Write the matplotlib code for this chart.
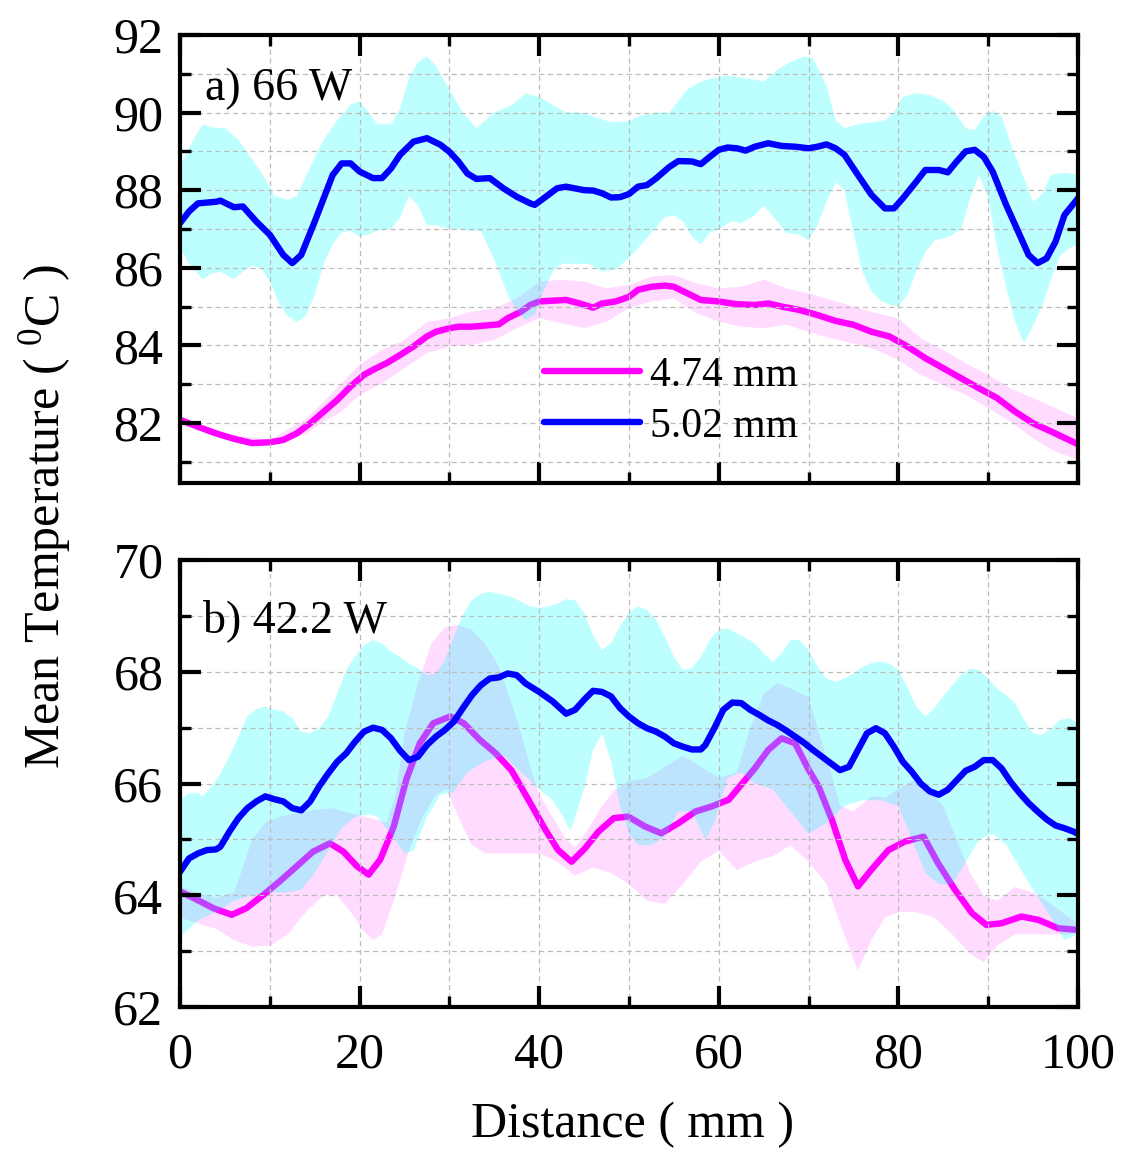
import numpy as np
import matplotlib

matplotlib.use("Agg")
import matplotlib.pyplot as plt
from matplotlib.lines import Line2D
from matplotlib.ticker import MultipleLocator

plt.rcParams["font.family"] = ["Liberation Serif", "DejaVu Serif"]
plt.rcParams["mathtext.fontset"] = "custom"
plt.rcParams["mathtext.rm"] = "Liberation Serif"

MAGENTA = "#ff00ff"
BLUE = "#0000ff"
CYAN = "#00ffff"
LINE_W = 4.6

# ---- a) 66 W ----------------------------------------------------------
TOP_BLUE = [
    (0, 87.15), (1, 87.45), (2, 87.66), (4, 87.7), (4.5, 87.73), (6, 87.56),
    (7, 87.58), (8.5, 87.19), (10, 86.85), (11.5, 86.33), (12.5, 86.12),
    (13.5, 86.33), (15, 87.19), (16, 87.79), (17, 88.39), (18, 88.69),
    (19, 88.69), (20, 88.48), (21.5, 88.31), (22.5, 88.31), (23.5, 88.56),
    (24.5, 88.91), (26, 89.25), (27.5, 89.34), (29, 89.17), (30, 88.99),
    (31, 88.74), (32, 88.43), (33, 88.29), (34.5, 88.31), (36, 88.05),
    (37.5, 87.83), (39, 87.66), (39.5, 87.62), (40.5, 87.79), (42, 88.05),
    (43, 88.09), (45, 88.0), (46, 87.99), (47, 87.92), (48, 87.81),
    (49, 87.82), (50, 87.9), (51, 88.09), (52, 88.13), (53, 88.3),
    (54.5, 88.6), (55.5, 88.75), (57, 88.74), (58, 88.67), (59, 88.86),
    (60, 89.04), (61, 89.1), (62, 89.08), (63, 89.02), (64, 89.12),
    (65.5, 89.21), (67, 89.14), (68.5, 89.12), (70, 89.08), (71, 89.12),
    (72, 89.18), (73, 89.08), (74, 88.91), (75.5, 88.39), (77, 87.88),
    (78.5, 87.53), (79.5, 87.53), (80.5, 87.79), (82, 88.22), (83, 88.52),
    (84.5, 88.52), (85.5, 88.46), (86.5, 88.74), (87.5, 89.0), (88.5, 89.04),
    (89.5, 88.86), (90.5, 88.48), (92, 87.62), (93.5, 86.85), (94.5, 86.33),
    (95.5, 86.12), (96.5, 86.24), (97.5, 86.67), (98.5, 87.36), (100, 87.79),
]
TOP_BLUE_HI = [
    (0, 88.6), (1, 89.1), (2.5, 89.7), (4, 89.6), (5, 89.6), (6.5, 89.3),
    (8, 88.8), (9.5, 88.3), (10.5, 87.85), (12, 87.75), (13, 87.85),
    (14.5, 88.6), (16, 89.3), (17.5, 89.8), (19, 90.2), (20, 90.3),
    (21, 90.0), (22, 89.7), (23.5, 89.7), (24.5, 90.1), (25.5, 90.9),
    (26.5, 91.3), (27.5, 91.45), (28.5, 91.2), (30, 90.6), (31.5, 90.0),
    (33, 89.6), (34, 89.8), (35, 90.0), (37, 90.2), (38.5, 90.5), (40, 90.4),
    (41.5, 90.2), (43, 90.0), (44.5, 90.0), (46, 89.9), (48, 89.75),
    (50, 89.78), (51, 89.9), (53, 90.0), (54.5, 90.0), (55.5, 90.3),
    (56.5, 90.6), (58, 90.8), (59.5, 90.9), (61, 90.95), (62.5, 90.9),
    (64, 90.85), (65, 90.8), (66.5, 91.1), (68, 91.3), (69.5, 91.45),
    (70.5, 91.4), (72, 90.7), (73, 89.8), (74, 89.6), (75.5, 89.7),
    (77, 89.75), (78.5, 89.8), (79.5, 90.0), (80.5, 90.4), (82, 90.5),
    (83.5, 90.45), (85, 90.3), (86, 90.1), (87.5, 89.6), (88.5, 89.55),
    (89.5, 89.9), (90.5, 90.05), (91.5, 89.9), (92.5, 89.2), (94, 88.3),
    (95, 87.7), (96, 87.9), (97, 88.4), (98.5, 88.45), (100, 88.4),
]
TOP_BLUE_LO = [
    (0, 86.5), (1, 86.1), (2.5, 85.7), (3.5, 85.85), (4.5, 85.9), (6, 85.7),
    (7, 85.9), (8, 86.05), (9, 86.0), (10, 85.65), (11, 85.1), (12, 84.75),
    (13, 84.6), (14, 84.75), (15, 85.3), (16, 86.1), (17, 86.6), (18, 86.9),
    (19, 86.95), (20, 86.8), (21, 86.85), (22, 86.95), (23.5, 87.0),
    (24.5, 87.3), (25.5, 87.85), (26.5, 87.6), (27.5, 87.1), (28.5, 87.1),
    (30, 87.0), (31, 87.0), (32.5, 86.95), (33.5, 86.95), (35, 86.2),
    (36.5, 85.3), (37.5, 84.9), (38.5, 84.65), (39.5, 84.8), (40.5, 85.4),
    (41.5, 85.9), (42.5, 86.1), (44, 86.1), (45.5, 86.1), (47, 85.9),
    (48.5, 85.95), (50, 86.25), (51, 86.5), (52.5, 86.9), (54, 87.3),
    (55, 87.35), (56, 87.2), (57, 86.8), (58, 86.6), (59, 86.9), (60, 87.0),
    (61.5, 87.2), (62.5, 87.15), (64, 87.35), (65, 87.6), (66.5, 87.2),
    (67.5, 86.9), (69, 86.85), (70, 86.7), (71, 87.1), (72, 87.7),
    (73, 88.2), (74, 88.0), (75, 86.9), (76, 85.9), (77, 85.4), (78, 85.15),
    (79, 85.05), (80, 85.0), (81, 85.3), (82, 85.9), (83, 86.4), (84, 86.7),
    (85, 86.75), (86, 86.85), (87, 87.0), (88, 87.8), (89, 88.4), (90, 87.8),
    (91, 86.5), (92, 85.5), (93, 84.6), (94, 84.05), (95, 84.5), (96, 85.0),
    (97, 85.7), (98, 86.3), (99, 86.5), (100, 86.6),
]
TOP_MAG = [
    (0, 82.08), (2, 81.9), (4, 81.73), (6, 81.59), (8, 81.48), (10, 81.5),
    (11.5, 81.56), (13, 81.73), (14.5, 81.99), (16, 82.29), (17.5, 82.59),
    (19, 82.94), (20.5, 83.24), (21.5, 83.37), (23, 83.54), (24.5, 83.75),
    (26, 83.97), (27.5, 84.23), (28.5, 84.35), (30, 84.44), (31, 84.48),
    (32.5, 84.48), (34, 84.51), (35.5, 84.54), (36.5, 84.7), (38, 84.87),
    (39, 85.04), (40, 85.13), (41.5, 85.15), (43, 85.17), (44.5, 85.08),
    (46, 84.97), (47, 85.08), (48.5, 85.13), (50, 85.25), (51, 85.43),
    (52.5, 85.51), (54, 85.54), (55, 85.51), (56.5, 85.34), (58, 85.17),
    (60, 85.13), (62, 85.06), (64, 85.04), (65.5, 85.08), (67, 85.0),
    (69, 84.91), (71, 84.78), (73, 84.63), (75, 84.53), (77, 84.35),
    (79, 84.23), (81, 83.97), (83, 83.67), (85, 83.41), (87, 83.15),
    (89, 82.89), (91, 82.64), (93, 82.29), (95, 81.99), (97, 81.78),
    (99, 81.56), (100, 81.45),
]
TOP_MAG_HI = [
    (0, 82.13), (5, 81.72), (10, 81.56), (14, 82.1), (16, 82.55), (20, 83.5),
    (22.5, 83.88), (25, 84.14), (27.5, 84.6), (30, 84.7), (32.5, 84.87),
    (35, 84.95), (37.5, 85.21), (40, 85.64), (42.5, 85.69), (45, 85.64),
    (47.5, 85.47), (50, 85.55), (52.5, 85.77), (55, 85.81), (57.5, 85.6),
    (60, 85.47), (62.5, 85.51), (65, 85.69), (67.5, 85.47), (70, 85.34),
    (72.5, 85.17), (75, 85.0), (77.5, 84.83), (80, 84.7), (82.5, 84.18),
    (85, 83.88), (87.5, 83.54), (90, 83.24), (92.5, 82.89), (95, 82.64),
    (97.5, 82.38), (100, 82.12),
]
TOP_MAG_LO = [
    (0, 82.03), (5, 81.62), (10, 81.45), (14, 81.7), (16, 82.03), (18, 82.29),
    (20, 82.72), (22.5, 83.02), (25, 83.41), (27.5, 83.8), (30, 83.97),
    (32.5, 84.01), (35, 84.14), (37.5, 84.44), (40, 84.7), (42.5, 84.57),
    (45, 84.44), (47.5, 84.61), (50, 84.96), (52.5, 85.13), (55, 85.21),
    (57.5, 84.83), (60, 84.61), (62.5, 84.48), (65, 84.44), (67.5, 84.53),
    (70, 84.35), (72.5, 84.18), (75, 84.05), (77.5, 83.88), (80, 83.62),
    (82.5, 83.24), (85, 82.98), (87.5, 82.72), (90, 82.38), (92.5, 82.03),
    (95, 81.6), (97.5, 81.26), (100, 81.05),
]

# ---- b) 42.2 W --------------------------------------------------------
BOT_BLUE = [
    (0, 64.42), (1, 64.66), (2, 64.75), (3, 64.81), (4, 64.82), (4.5, 64.87),
    (5.5, 65.14), (6.5, 65.38), (7.5, 65.56), (8.5, 65.68), (9.5, 65.77),
    (10.5, 65.72), (11.5, 65.68), (12.5, 65.56), (13.5, 65.52), (14.5, 65.68),
    (15.5, 65.95), (16.5, 66.18), (17.5, 66.39), (18.5, 66.54), (19.5, 66.75),
    (20.5, 66.93), (21.5, 67.0), (22.5, 66.96), (23.5, 66.81), (24.5, 66.59),
    (25.5, 66.42), (26.5, 66.48), (27.5, 66.69), (28.5, 66.84), (29.5, 66.96),
    (30.5, 67.11), (31.5, 67.35), (32.5, 67.58), (33.5, 67.76), (34.5, 67.88),
    (35.5, 67.9), (36.5, 67.97), (37.5, 67.94), (38.5, 67.79), (40, 67.64),
    (41.5, 67.47), (43, 67.25), (44, 67.32), (45, 67.5), (46, 67.66),
    (47, 67.64), (48, 67.56), (49, 67.35), (50, 67.2), (51, 67.08),
    (52, 66.99), (53, 66.93), (54, 66.84), (55, 66.72), (56, 66.66),
    (57, 66.61), (58, 66.61), (58.5, 66.69), (59.5, 66.99), (60.5, 67.32),
    (61.5, 67.45), (62.5, 67.44), (63.5, 67.32), (64.5, 67.23), (65.5, 67.13),
    (66.5, 67.05), (67.5, 66.95), (68.5, 66.84), (69.5, 66.73), (70.5, 66.6),
    (71.5, 66.48), (72.5, 66.36), (73.5, 66.24), (74.5, 66.3), (75.5, 66.6),
    (76.5, 66.9), (77.5, 66.99), (78.5, 66.9), (79.5, 66.66), (80.5, 66.39),
    (81.5, 66.21), (82.5, 66.0), (83.5, 65.86), (84.5, 65.8), (85.5, 65.89),
    (86.5, 66.06), (87.5, 66.23), (88.5, 66.3), (89.5, 66.42), (90.5, 66.42),
    (91.5, 66.27), (92.5, 66.03), (93.5, 65.83), (94.5, 65.65), (95.5, 65.5),
    (96.5, 65.36), (97.5, 65.25), (98.5, 65.2), (99.5, 65.14), (100, 65.1),
]
BOT_BLUE_HI = [
    (0, 65.7), (1, 65.83), (2, 65.83), (2.5, 65.77), (3.5, 65.95), (4.5, 66.18),
    (5.5, 66.48), (6.5, 66.84), (7.5, 67.2), (8.5, 67.33), (9.5, 67.38),
    (10.5, 67.32), (11.5, 67.29), (12.5, 67.17), (13.5, 66.93), (14.5, 66.9),
    (15.5, 66.99), (16.5, 67.2), (17.5, 67.61), (18.5, 68.03), (19.5, 68.27),
    (20.5, 68.48), (21.5, 68.57), (22.5, 68.51), (23.5, 68.36), (24.5, 68.27),
    (25.5, 68.15), (26.5, 68.06), (27.5, 67.94), (28.5, 67.97), (29.5, 68.21),
    (30.5, 68.63), (31.5, 69.02), (32.5, 69.28), (33.5, 69.4), (34.5, 69.43),
    (35.5, 69.4), (37, 69.34), (38, 69.25), (39, 69.17), (40, 69.14),
    (41, 69.17), (42, 69.22), (43, 69.3), (44, 69.28), (45, 69.05),
    (46, 68.66), (47, 68.39), (48, 68.51), (49, 68.81), (50, 69.06),
    (51, 69.17), (52, 69.11), (53, 68.93), (54, 68.63), (55, 68.27),
    (56, 68.03), (57, 68.06), (58, 68.27), (59, 68.57), (60, 68.75),
    (61, 68.78), (62, 68.69), (63, 68.6), (64, 68.51), (65, 68.33),
    (66, 68.18), (67, 68.33), (68, 68.57), (69, 68.57), (70, 68.39),
    (71, 68.09), (72, 67.88), (73, 67.82), (74, 67.88), (75, 67.97),
    (76, 68.09), (77, 68.16), (78, 68.18), (79, 68.15), (80, 68.03),
    (81, 67.73), (82, 67.38), (83, 67.2), (84, 67.35), (85, 67.56),
    (86, 67.76), (87, 67.94), (88, 68.06), (89, 68.03), (90, 67.88),
    (91, 67.7), (92, 67.58), (93, 67.44), (94, 67.14), (95, 66.9),
    (96, 66.87), (97, 66.99), (98, 67.14), (99, 67.17), (100, 67.08),
]
BOT_BLUE_LO = [
    (0, 63.25), (2, 63.55), (4, 63.7), (6, 63.9), (8, 64.0), (10, 64.05),
    (12, 64.05), (13.5, 64.1), (15, 64.4), (16.5, 64.8), (18, 65.2),
    (19.5, 65.4), (21, 65.45), (22, 65.4), (23.5, 65.1), (25, 64.75),
    (26, 64.8), (27.5, 65.4), (29, 65.8), (30.5, 65.85), (32, 66.2),
    (34, 66.4), (36, 66.5), (38, 66.2), (40, 65.9), (41.5, 65.7),
    (42.5, 65.45), (43.5, 65.15), (45, 65.9), (46, 66.6), (47, 66.9),
    (48, 66.4), (49, 65.6), (50, 65.1), (51, 64.9), (52.5, 64.9),
    (54, 65.05), (55.5, 65.5), (57, 65.5), (58.5, 65.0), (59.5, 65.3),
    (61, 66.1), (62.5, 66.2), (64, 66.0), (66, 65.9), (68, 65.5),
    (70, 65.1), (72, 65.3), (74, 65.6), (76, 65.7), (78, 65.7), (80, 65.6),
    (81.5, 65.0), (83, 64.4), (84.5, 64.2), (86, 64.2), (87.5, 64.6),
    (89, 65.0), (90.5, 65.1), (92, 64.9), (93.5, 64.5), (95, 64.1),
    (97, 63.6), (98.5, 63.2), (100, 63.3),
]
BOT_MAG = [
    (0, 64.07), (1.9, 63.92), (3.7, 63.77), (5.75, 63.65), (7.4, 63.77),
    (9.3, 64.01), (11.1, 64.25), (13, 64.52), (14.8, 64.78), (16.7, 64.93),
    (18.2, 64.78), (19.7, 64.52), (21, 64.37), (22.3, 64.64), (23.8, 65.23),
    (25.2, 66.07), (26.7, 66.72), (28.2, 67.08), (30.1, 67.2), (31.6, 67.08),
    (33.4, 66.78), (35.1, 66.55), (36.9, 66.24), (38.8, 65.71), (40.7, 65.17),
    (42.1, 64.81), (43.6, 64.6), (45.1, 64.84), (46.6, 65.14), (48.3, 65.38),
    (49.9, 65.41), (51.8, 65.23), (53.6, 65.11), (55.5, 65.29), (57.4, 65.5),
    (59.2, 65.59), (61.1, 65.71), (62.5, 65.98), (64, 66.27), (65.5, 66.6),
    (67, 66.81), (68.5, 66.72), (70, 66.25), (71.1, 65.95), (72.6, 65.35),
    (74.1, 64.63), (75.5, 64.16), (77, 64.46), (78.9, 64.81), (80.7, 64.96),
    (82.8, 65.05), (84.4, 64.58), (86.3, 64.1), (88.2, 63.68), (89.8, 63.47),
    (91.5, 63.5), (93.7, 63.62), (95.6, 63.56), (97.8, 63.41), (100, 63.38),
]
BOT_MAG_HI = [
    (0, 64.16), (2, 64.04), (4, 63.95), (6, 64.05), (7, 64.5), (8, 65.0),
    (9.5, 65.3), (11, 65.4), (13, 65.47), (15, 65.53), (17, 65.56),
    (19, 65.47), (20.5, 65.41), (22, 65.35), (23, 65.3), (24, 65.8),
    (25, 66.9), (26.5, 67.8), (28, 68.5), (29.5, 68.8), (31, 68.84),
    (32.5, 68.75), (34, 68.5), (35.5, 68.1), (37, 67.4), (38, 66.9),
    (39, 66.3), (40, 65.8), (41.5, 65.4), (43, 65.0), (44, 64.85),
    (45.5, 65.2), (47, 65.6), (48.5, 65.9), (50, 66.05), (52, 66.1),
    (54, 66.3), (56, 66.5), (58, 66.3), (60, 66.1), (62, 66.2), (63.5, 67.0),
    (65, 67.6), (66.5, 67.8), (68, 67.7), (70, 67.55), (71, 67.0),
    (72.5, 66.2), (73.5, 65.6), (75, 65.5), (77, 65.77), (78.5, 65.75),
    (80, 65.9), (81.5, 66.05), (83, 65.95), (85, 65.6), (86.5, 65.0),
    (88, 64.4), (89.5, 64.0), (91, 63.9), (93, 64.15), (95, 64.05),
    (97, 63.85), (99, 63.6), (100, 63.5),
]
BOT_MAG_LO = [
    (0, 63.6), (2, 63.5), (4, 63.4), (6, 63.2), (8, 63.08), (10, 63.1),
    (12, 63.3), (14, 63.7), (16, 64.0), (17.5, 64.0), (19, 63.7),
    (20.5, 63.35), (21.5, 63.2), (22.5, 63.3), (24, 64.0), (25.5, 64.8),
    (27, 65.4), (28.5, 65.8), (29.7, 65.9), (31, 65.4), (32.5, 64.9),
    (34, 64.75), (36, 64.75), (38, 64.75), (40, 64.75), (42, 64.6),
    (44, 64.35), (46, 64.5), (48, 64.4), (50, 64.2), (52, 63.9), (54, 63.85),
    (56, 64.2), (58, 64.6), (60, 64.8), (62, 64.45), (64, 64.6), (66, 64.7),
    (68, 64.9), (70, 64.6), (72, 64.2), (73.5, 63.5), (75.5, 62.65),
    (77, 63.2), (78.5, 63.6), (80, 63.7), (82, 63.7), (84, 63.6), (86, 63.3),
    (88, 62.95), (89.5, 62.8), (91, 63.1), (93, 63.3), (95, 63.3),
    (97, 63.3), (99, 63.3), (100, 63.35),
]

LABELS = ["4.74 mm", "5.02 mm"]


def xy(points):
    arr = np.array(points, dtype=float)
    return arr[:, 0], arr[:, 1]


def band(ax, upper, lower, color, alpha, zorder):
    xu, yu = xy(upper)
    xl, yl = xy(lower)
    ax.fill(
        np.concatenate([xu, xl[::-1]]),
        np.concatenate([yu, yl[::-1]]),
        color=color,
        alpha=alpha,
        linewidth=0,
        zorder=zorder,
    )


def style_axes(ax, ylim):
    ax.set_xlim(0, 100)
    ax.set_ylim(*ylim)
    ax.xaxis.set_major_locator(MultipleLocator(20))
    ax.xaxis.set_minor_locator(MultipleLocator(10))
    ax.yaxis.set_major_locator(MultipleLocator(2))
    ax.yaxis.set_minor_locator(MultipleLocator(1))
    ax.set_axisbelow("line")
    ax.grid(True, which="both", linestyle=(0, (4, 3)), color="#bcbcbc", linewidth=0.9)
    ax.tick_params(which="both", direction="in", top=True, right=True, labelsize=36)
    ax.tick_params(which="major", length=15, width=3.0, pad=12)
    ax.tick_params(axis="x", which="major", pad=18)
    ax.tick_params(which="minor", length=8, width=2.4)
    for spine in ax.spines.values():
        spine.set_linewidth(3.0)


def draw_panel(ax, mag, mag_hi, mag_lo, blue, blue_hi, blue_lo):
    band(ax, mag_hi, mag_lo, MAGENTA, 0.14, 1.0)
    ax.plot(*xy(mag), color=MAGENTA, linewidth=LINE_W, zorder=1.2,
            solid_capstyle="round", solid_joinstyle="round")
    band(ax, blue_hi, blue_lo, CYAN, 0.26, 1.4)
    ax.plot(*xy(blue), color=BLUE, linewidth=LINE_W, zorder=2.0,
            solid_capstyle="round", solid_joinstyle="round")


fig = plt.figure(figsize=(11.23, 11.55), dpi=100)
ax_top = fig.add_axes([0.1603, 0.5818, 0.7996, 0.3879])
ax_bot = fig.add_axes([0.1603, 0.1281, 0.7996, 0.3870])

draw_panel(ax_top, TOP_MAG, TOP_MAG_HI, TOP_MAG_LO, TOP_BLUE, TOP_BLUE_HI, TOP_BLUE_LO)
draw_panel(ax_bot, BOT_MAG, BOT_MAG_HI, BOT_MAG_LO, BOT_BLUE, BOT_BLUE_HI, BOT_BLUE_LO)

style_axes(ax_top, (80.45, 92))
style_axes(ax_bot, (62, 70))
ax_top.tick_params(labelbottom=False)

ax_top.text(0.028, 0.855, "a) 66 W", transform=ax_top.transAxes, fontsize=33, va="baseline")
ax_bot.text(0.026, 0.839, "b) 42.2 W", transform=ax_bot.transAxes, fontsize=33, va="baseline")

handles = [
    Line2D([], [], color=MAGENTA, linewidth=LINE_W, solid_capstyle="round"),
    Line2D([], [], color=BLUE, linewidth=LINE_W, solid_capstyle="round"),
]
ax_top.legend(
    handles,
    LABELS,
    loc="center",
    bbox_to_anchor=(0.547, 0.183),
    frameon=False,
    fontsize=30,
    handlelength=2.3,
    handletextpad=0.25,
    labelspacing=0.3,
    borderpad=0.1,
)

fig.text(0.563, 0.026, "Distance ( mm )", fontsize=36, ha="center", va="center")
fig.text(0.040, 0.553, r"Mean Temperature ( $\mathregular{^{0}}$C )", fontsize=36,
         rotation=90, ha="center", va="center")

fig.savefig("out.png", dpi=100)
